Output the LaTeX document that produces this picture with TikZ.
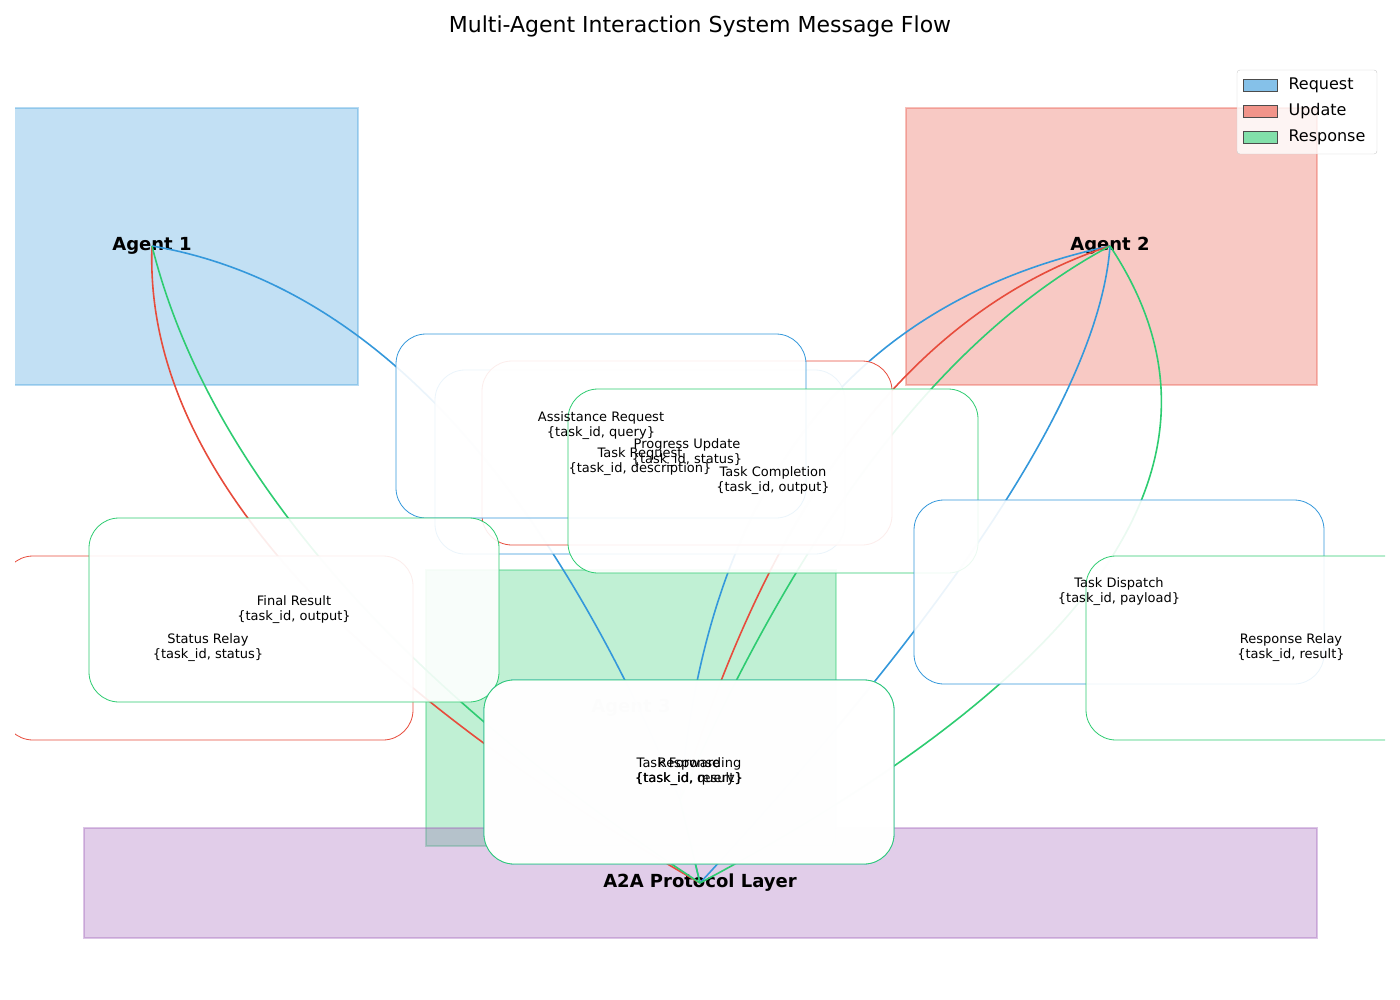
\documentclass[tikz,border=0pt]{standalone}
\usepackage{fontspec}
\setmainfont{DejaVu Sans}
\usetikzlibrary{positioning}
\definecolor{reqBlue}{HTML}{3498DB}
\definecolor{updRed}{HTML}{E74C3C}
\definecolor{resGreen}{HTML}{2ECC71}
\definecolor{layerPurple}{HTML}{9B59B6}
\tikzset{
  agent/.style={draw=#1, draw opacity=0.35, fill=#1, fill opacity=0.3, line width=1.5pt},
  msg/.style={draw=#1, line width=1.6pt},
  lbl/.style={draw=#1, fill=white, fill opacity=0.9, rounded corners=30pt, minimum width=410pt, minimum height=184pt, line width=0.8pt},
  ltxt/.style={align=center, font=\fontsize{13}{15}\selectfont},
  agentname/.style={font=\fontsize{18}{20}\selectfont\bfseries}
}
\begin{document}
\begin{tikzpicture}[x=1pt, y=-1pt]
  \useasboundingbox (0,0) rectangle (1400,1000);
  \node[font=\fontsize{22}{26}\selectfont] (title) at (700,26) {Multi-Agent Interaction System Message Flow};

  \begin{scope}
    \clip (15,0) rectangle (1385,1000);
    % agents and layer
    \draw[agent=reqBlue] (0,108) rectangle (358,385);
    \draw[agent=updRed] (906,108) rectangle (1317,385);
    \draw[agent=resGreen] (426,570) rectangle (836,846);
    \draw[agent=layerPurple] (84,828) rectangle (1317,938);
    \node[agentname] (a1) at (152,246) {Agent 1};
    \node[agentname] (a2) at (1110,246) {Agent 2};
    \node[agentname] (a3) at (631,708) {Agent 3};
    \node[agentname] (layer) at (700,883) {A2A Protocol Layer};
    \coordinate (hub) at (680,800);

    % message lines
    \draw[msg=reqBlue] (a1.center) .. controls (364,282) and (540,467) .. (hub);
    \draw[msg=updRed] (a1.center) .. controls (144,455) and (327,668) .. (layer.center);
    \draw[msg=resGreen] (a1.center) .. controls (207,465) and (389,678) .. (layer.center);
    \draw[msg=reqBlue] (a2.center) .. controls (850,302) and (707,487) .. (hub);
    \draw[msg=updRed] (a2.center) .. controls (917,309) and (773,493) .. (hub);
    \draw[msg=resGreen] (a2.center) .. controls (947,333) and (803,518) .. (hub);
    \draw[msg=reqBlue] (a2.center) .. controls (1100,385) and (963,598) .. (layer.center);
    \draw[msg=resGreen] (a2.center) .. controls (1247,452) and (1110,664) .. (layer.center);
    \draw[msg=reqBlue] (hub) -- (layer.center);
    \draw[msg=resGreen] (hub) -- (layer.center);

    % label boxes
    \node[lbl=reqBlue] (treqbox) at (640,462) {};
    \node[lbl=updRed] (progbox) at (687,453) {};
    \node[lbl=reqBlue] (assbox) at (601,426) {};
    \node[lbl=resGreen] (compbox) at (773,481) {};
    \node[lbl=reqBlue] (dispbox) at (1119,592) {};
    \node[lbl=resGreen] (relbox) at (1291,648) {};
    \node[lbl=updRed] (statbox) at (208,648) {};
    \node[lbl=resGreen] (finbox) at (294,610) {};
    \node[lbl=reqBlue] (fwdbox) at (689,772) {};
    \node[lbl=resGreen] (respbox) at (689,772) {};

    \node[ltxt] (treq) at (treqbox) {Task Request\\\{task\_id, description\}};
    \node[ltxt] (prog) at (progbox) {Progress Update\\\{task\_id, status\}};
    \node[ltxt] (ass) at (assbox) {Assistance Request\\\{task\_id, query\}};
    \node[ltxt] (comp) at (compbox) {Task Completion\\\{task\_id, output\}};
    \node[ltxt] (disp) at (dispbox) {Task Dispatch\\\{task\_id, payload\}};
    \node[ltxt] (rel) at (relbox) {Response Relay\\\{task\_id, result\}};
    \node[ltxt] (stat) at (statbox) {Status Relay\\\{task\_id, status\}};
    \node[ltxt] (fin) at (finbox) {Final Result\\\{task\_id, output\}};
    \node[ltxt] (fwd) at (fwdbox) {Task Forwarding\\\{task\_id, query\}};
    \node[ltxt] (resp) at (respbox) {Response\\\{task\_id, result\}};
  \end{scope}

  % legend
  \draw[black!20, fill=white, fill opacity=0.8, rounded corners=3pt] (1237,70) rectangle (1377,154);
  \foreach \c/\t [count=\i] in {reqBlue/Request, updRed/Update, resGreen/Response}{
    \draw[black!70, fill=\c!60] (1243,79+26*\i-26) rectangle (1277,91+26*\i-26);
    \node[anchor=west, font=\fontsize{16}{18}\selectfont] (leg\i) at (1285,85+26*\i-26) {\t};
  }
\end{tikzpicture}
\end{document}
